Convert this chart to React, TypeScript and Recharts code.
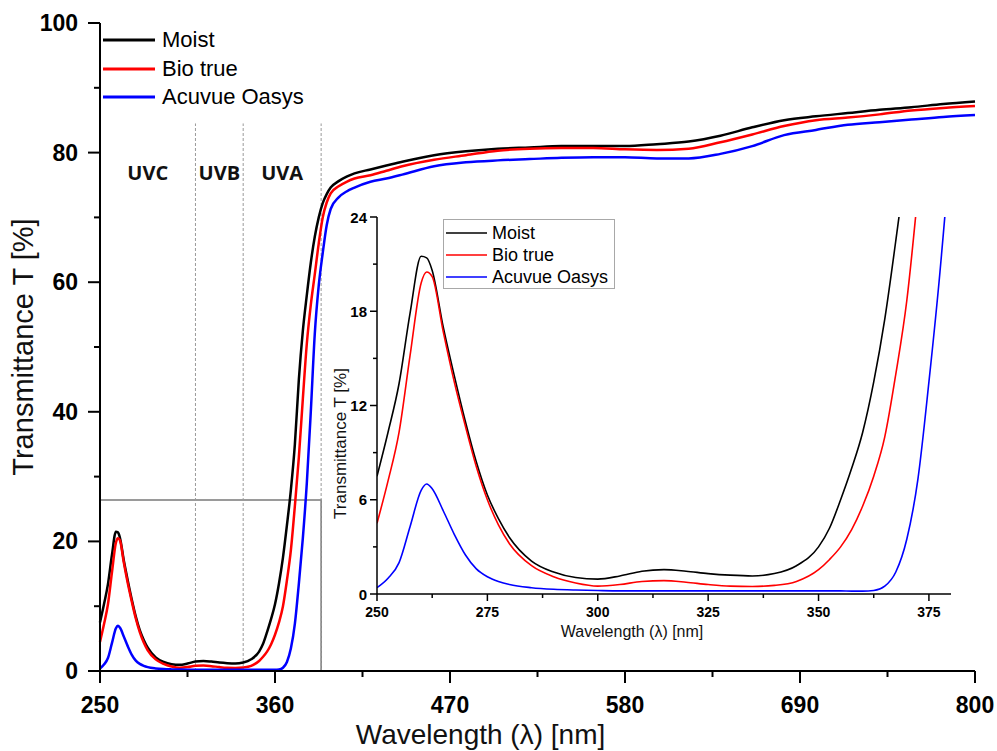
import { LineChart, Line, XAxis, YAxis, ReferenceLine, ReferenceArea, Legend, Label } from 'recharts';

const FONT = "Arial, 'Liberation Sans', sans-serif";

// wavelength grid (nm)
const wavelengths = [
  250, 252.5, 255, 257.5, 260, 261.25, 262.5, 265, 267.5, 270, 272.5, 275, 277.5, 280, 285, 290, 295, 300, 305,
  310, 315, 320, 325, 330, 335, 340, 345, 350, 352.5, 355, 357.5, 360, 362.5, 365, 367.5, 370, 372.5, 375,
  377.5, 380, 382.5, 385, 387.5, 390, 392.5, 395, 400, 405, 410, 420, 430, 440, 460, 480, 500, 520, 540, 560,
  580, 600, 620, 640, 660, 680, 700, 720, 740, 760, 780, 800,
];

// transmittance T [%]
const moist = [
  7.5, 10.3, 13.4, 17.9, 21.5, 21.4, 20.6, 17.0, 13.9, 11.0, 8.4, 6.3, 4.8, 3.6, 2.1, 1.4, 1.05, 0.95, 1.15,
  1.45, 1.55, 1.45, 1.3, 1.2, 1.15, 1.3, 1.8, 3.0, 4.2, 6.0, 8.0, 10.3, 13.5, 17.5, 22.5, 28.0, 35.0, 45.0,
  52.5, 58.0, 63.0, 67.0, 70.0, 72.2, 73.6, 74.6, 75.6, 76.3, 76.8, 77.4, 78.0, 78.6, 79.6, 80.2, 80.6, 80.8,
  81.0, 81.0, 81.0, 81.3, 81.7, 82.6, 83.9, 85.0, 85.6, 86.1, 86.6, 87.0, 87.5, 87.9,
];
const bioTrue = [
  4.5, 7.2, 10.3, 15.2, 19.8, 20.5, 20.2, 16.7, 13.5, 10.7, 8.1, 6.0, 4.4, 3.2, 1.8, 1.1, 0.7, 0.5, 0.6,
  0.8, 0.85, 0.75, 0.6, 0.5, 0.48, 0.55, 0.8, 1.55, 2.2, 3.0, 4.1, 5.6, 7.5, 10.0, 14.0, 18.7, 25.5, 33.0,
  42.0, 50.5, 56.5, 61.2, 66.0, 70.0, 72.3, 73.7, 74.8, 75.5, 76.0, 76.5, 77.2, 77.9, 78.9, 79.6, 80.3, 80.6,
  80.7, 80.7, 80.5, 80.4, 80.6, 81.6, 82.8, 84.1, 85.0, 85.4, 85.9, 86.5, 86.9, 87.2,
];
const acuvue = [
  0.4, 1.0, 2.0, 4.3, 6.6, 7.0, 6.7, 5.3, 3.8, 2.5, 1.6, 1.1, 0.8, 0.6, 0.4, 0.3, 0.25, 0.22, 0.2,
  0.2, 0.2, 0.2, 0.2, 0.2, 0.2, 0.2, 0.2, 0.2, 0.2, 0.2, 0.18, 0.18, 0.22, 0.5, 1.4, 3.5, 7.3, 13.5,
  20.5, 29.0, 40.0, 52.0, 59.5, 64.5, 68.8, 71.3, 73.1, 74.0, 74.6, 75.5, 76.0, 76.6, 77.9, 78.5, 78.8, 79.0,
  79.2, 79.3, 79.3, 79.1, 79.1, 79.8, 81.0, 82.7, 83.5, 84.3, 84.7, 85.1, 85.5, 85.8,
];

const seriesKeys = ['moist', 'bio', 'acuvue'];
const seriesNames = ['Moist', 'Bio true', 'Acuvue Oasys'];
const seriesColors = ['#000000', '#ff0000', '#0000ff'];

const mainXTicks = [250, 305, 360, 415, 470, 525, 580, 635, 690, 745, 800];
const mainXMajor = [250, 360, 470, 580, 690, 800];
const mainYTicks = [0, 10, 20, 30, 40, 50, 60, 70, 80, 90, 100];
const mainYMajor = [0, 20, 40, 60, 80, 100];

const insetXTicks = [250, 262.5, 275, 287.5, 300, 312.5, 325, 337.5, 350, 362.5, 375];
const insetXMajor = [250, 275, 300, 325, 350, 375];
const insetYTicks = [0, 3, 6, 9, 12, 15, 18, 21, 24];
const insetYMajor = [0, 6, 12, 18, 24];

// UV bands
const bandEdges = [250, 310, 340, 389];
const bandNames = ['UVC', 'UVB', 'UVA'];
const bandTop = 84.5;
// zoomed region marked on the main plot
const zoomX = [250, 389];
const zoomY = [0, 26.4];

const rows = wavelengths.map((wl, i) => ({ wl, moist: moist[i], bio: bioTrue[i], acuvue: acuvue[i] }));

const MainTickX = (props: any) => {
  const { x, y, payload } = props;
  const major = mainXMajor.includes(payload.value);
  return (
    <g>
      <line x1={x} y1={y} x2={x} y2={y + (major ? 12 : 6)} stroke="#000" strokeWidth={2} />
      {major && (
        <text x={x} y={y + 42} textAnchor="middle" fontSize={23} fontWeight="bold" fontFamily={FONT} fill="#000">
          {payload.value}
        </text>
      )}
    </g>
  );
};

const MainTickY = (props: any) => {
  const { x, y, payload } = props;
  const major = mainYMajor.includes(payload.value);
  return (
    <g>
      <line x1={x - (major ? 12 : 6)} y1={y} x2={x} y2={y} stroke="#000" strokeWidth={2} />
      {major && (
        <text x={x - 22} y={y + 8} textAnchor="end" fontSize={23} fontWeight="bold" fontFamily={FONT} fill="#000">
          {payload.value}
        </text>
      )}
    </g>
  );
};

const InsetTickX = (props: any) => {
  const { x, y, payload } = props;
  const major = insetXMajor.includes(payload.value);
  return (
    <g>
      <line x1={x} y1={y} x2={x} y2={y + (major ? 7 : 4)} stroke="#000" strokeWidth={1.5} />
      {major && (
        <text x={x} y={y + 23} textAnchor="middle" fontSize={14} fontWeight="bold" fontFamily={FONT} fill="#000">
          {payload.value}
        </text>
      )}
    </g>
  );
};

const InsetTickY = (props: any) => {
  const { x, y, payload } = props;
  const major = insetYMajor.includes(payload.value);
  return (
    <g>
      <line x1={x - (major ? 7 : 4)} y1={y} x2={x} y2={y} stroke="#000" strokeWidth={1.5} />
      {major && (
        <text x={x - 10} y={y + 5.5} textAnchor="end" fontSize={15} fontWeight="bold" fontFamily={FONT} fill="#000">
          {payload.value}
        </text>
      )}
    </g>
  );
};

// legends keep the series order (Recharts would sort them by name)
const MainLegend = () => (
  <div style={{ fontFamily: FONT }}>
    {seriesNames.map((n, i) => (
      <div key={n} style={{ display: 'flex', alignItems: 'center', height: 28.5 }}>
        <svg width={52} height={6}>
          <line x1={0} y1={3} x2={52} y2={3} stroke={seriesColors[i]} strokeWidth={3} />
        </svg>
        <span style={{ fontSize: 22, marginLeft: 7, color: '#000', lineHeight: '22px' }}>{n}</span>
      </div>
    ))}
  </div>
);

const InsetLegend = () => (
  <div
    style={{
      fontFamily: FONT,
      border: '1px solid #a8a8a8',
      background: '#fff',
      width: 172,
      height: 70,
      paddingTop: 2,
      boxSizing: 'border-box',
    }}
  >
    {seriesNames.map((n, i) => (
      <div key={n} style={{ display: 'flex', alignItems: 'center', height: 22 }}>
        <svg width={44} height={4} style={{ marginLeft: 2 }}>
          <line x1={0} y1={2} x2={41} y2={2} stroke={seriesColors[i]} strokeWidth={1.6} />
        </svg>
        <span style={{ fontSize: 18, marginLeft: 2, color: '#000', lineHeight: '18px' }}>{n}</span>
      </div>
    ))}
  </div>
);

export default function App() {
  return (
    <div style={{ position: 'absolute', left: 0, top: 0, width: 997, height: 751, background: '#fff' }}>
      <LineChart width={997} height={751} data={rows} margin={{ top: 23, right: 22, bottom: 0, left: 0 }}>
        <XAxis
          dataKey="wl"
          type="number"
          domain={[250, 800]}
          ticks={mainXTicks}
          interval={0}
          tickSize={0}
          tickMargin={0}
          tickLine={false}
          tick={<MainTickX />}
          height={80}
          axisLine={{ stroke: '#000', strokeWidth: 2 }}
        >
          <Label
            value="Wavelength (λ) [nm]"
            position="insideBottom"
            offset={7}
            dx={-57}
            fontSize={28}
            fontFamily={FONT}
            fill="#111"
          />
        </XAxis>
        <XAxis
          xAxisId="top"
          orientation="top"
          type="number"
          domain={[250, 800]}
          height={0}
          tick={false}
          tickLine={false}
          axisLine={{ stroke: '#000', strokeWidth: 2 }}
        />
        <YAxis
          type="number"
          domain={[0, 100]}
          ticks={mainYTicks}
          interval={0}
          tickSize={0}
          tickMargin={0}
          tickLine={false}
          tick={<MainTickY />}
          width={100}
          axisLine={{ stroke: '#000', strokeWidth: 2 }}
        >
          <Label
            value="Transmittance T [%]"
            position="insideLeft"
            angle={-90}
            offset={23}
            fontSize={29}
            fontFamily={FONT}
            fill="#111"
            style={{ textAnchor: 'middle' }}
          />
        </YAxis>
        <YAxis
          yAxisId="right"
          orientation="right"
          type="number"
          domain={[0, 100]}
          width={0}
          tick={false}
          tickLine={false}
          axisLine={{ stroke: '#000', strokeWidth: 2 }}
        />
        {bandEdges.slice(1).map((e) => (
          <ReferenceLine
            key={e}
            segment={[{ x: e, y: 0 }, { x: e, y: bandTop }]}
            stroke="#9a9a9a"
            strokeWidth={1}
            strokeDasharray="3 2"
          />
        ))}
        {bandNames.map((n, i) => (
          <ReferenceArea
            key={n}
            x1={bandEdges[i]}
            x2={bandEdges[i + 1]}
            y1={0}
            y2={bandTop}
            fill="none"
            stroke="none"
            label={{
              value: n,
              position: 'insideTop',
              offset: 42,
              fontSize: 20,
              fontWeight: 700,
              fontFamily: "'Open Sans', sans-serif",
              fill: '#111',
            }}
          />
        ))}
        <ReferenceArea
          x1={zoomX[0]}
          x2={zoomX[1]}
          y1={zoomY[0]}
          y2={zoomY[1]}
          fill="none"
          stroke="#7a7a7a"
          strokeWidth={1.5}
        />
        {seriesKeys.map((k, i) => (
          <Line
            key={k}
            dataKey={k}
            name={seriesNames[i]}
            type="monotone"
            stroke={seriesColors[i]}
            strokeWidth={2.5}
            dot={false}
            isAnimationActive={false}
          />
        ))}
        <Legend
          layout="horizontal"
          verticalAlign="middle"
          align="center"
          content={<MainLegend />}
          wrapperStyle={{ left: 103, top: 26, width: 300, height: 90 }}
        />
      </LineChart>

      <div style={{ position: 'absolute', left: 300, top: 200, width: 680, height: 450 }}>
        <LineChart width={680} height={450} data={rows} margin={{ top: 17, right: 29, bottom: 0, left: 0 }}>
          <XAxis
            dataKey="wl"
            type="number"
            domain={[250, 380]}
            allowDataOverflow
            ticks={insetXTicks}
            interval={0}
            tickSize={0}
            tickMargin={0}
            tickLine={false}
            tick={<InsetTickX />}
            height={56}
            axisLine={{ stroke: '#000', strokeWidth: 1.5 }}
          >
            <Label
              value="Wavelength (λ) [nm]"
              position="insideBottom"
              offset={13}
              dx={-32}
              fontSize={16}
              fontFamily={FONT}
              fill="#111"
            />
          </XAxis>
          <XAxis
            xAxisId="top"
            orientation="top"
            type="number"
            domain={[250, 380]}
            height={0}
            tick={false}
            tickLine={false}
            axisLine={{ stroke: '#000', strokeWidth: 1.5 }}
          />
          <YAxis
            type="number"
            domain={[0, 24]}
            allowDataOverflow
            ticks={insetYTicks}
            interval={0}
            tickSize={0}
            tickMargin={0}
            tickLine={false}
            tick={<InsetTickY />}
            width={77}
            axisLine={{ stroke: '#000', strokeWidth: 1.5 }}
          >
            <Label
              value="Transmittance T [%]"
              position="insideLeft"
              angle={-90}
              offset={40}
              dy={38}
              fontSize={17}
              fontFamily={FONT}
              fill="#111"
              style={{ textAnchor: 'middle' }}
            />
          </YAxis>
          <YAxis
            yAxisId="right"
            orientation="right"
            type="number"
            domain={[0, 24]}
            width={0}
            tick={false}
            tickLine={false}
            axisLine={{ stroke: '#000', strokeWidth: 1.5 }}
          />
          {seriesKeys.map((k, i) => (
            <Line
              key={k}
              dataKey={k}
              name={seriesNames[i]}
              type="monotone"
              stroke={seriesColors[i]}
              strokeWidth={1.6}
              dot={false}
              isAnimationActive={false}
            />
          ))}
          <Legend
            layout="horizontal"
            verticalAlign="middle"
            align="center"
            content={<InsetLegend />}
            wrapperStyle={{ left: 143, top: 19, width: 172, height: 70 }}
          />
        </LineChart>
      </div>
    </div>
  );
}
